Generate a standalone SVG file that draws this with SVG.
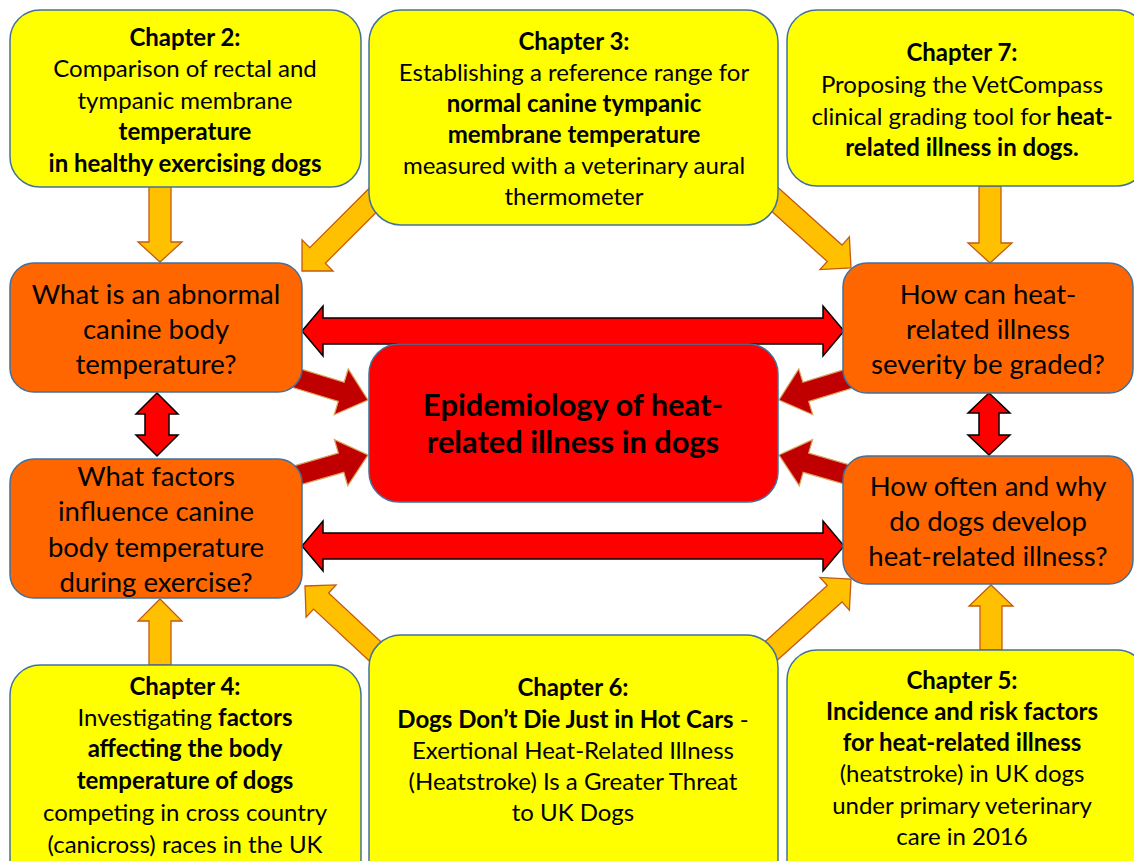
<svg xmlns="http://www.w3.org/2000/svg" width="1134" height="861" viewBox="0 0 1134 861">
  <defs>
    <style>
      .ch { fill: #FFFF00; stroke: #41719C; stroke-width: 1.5; }
      .q { fill: #FF6600; stroke: #41719C; stroke-width: 1.5; }
      .core { fill: #FF0000; stroke: #41719C; stroke-width: 1.5; }
      .ya { fill: #FFC000; stroke: #C55A11; stroke-width: 1.3; stroke-linejoin: miter; }
      .ra { fill: #C00000; stroke: #D9A45A; stroke-width: 1.2; }
      .da { fill: #FF0000; stroke: #000000; stroke-width: 1.5; stroke-linejoin: miter; }
      text { font-family: Lato, "Open Sans", "Liberation Sans", sans-serif; fill: #000; text-anchor: middle; }
      .t { font-size: 24px; }
      .qt { font-size: 27.5px; }
      .ct { font-size: 30.8px; font-weight: bold; }
      .b { font-weight: bold; }
    </style>
  </defs>

  <!-- connectors -->
  <g id="connectors">
    <!-- yellow block arrows from chapters to questions -->
    <polygon class="ya" points="149,186 171,186 171,242 182,242 160,262 138,242 149,242"/>
    <polygon class="ya" points="979,186 1001,186 1001,243 1012,243 990,263 968,243 979,243"/>
    <polygon class="ya" points="149,665 171,665 171,621 182,621 160,599 138,621 149,621"/>
    <polygon class="ya" points="980,650 1002,650 1002,606 1013,606 991,585 969,606 980,606"/>
    <!-- diagonal yellow arrows: base shape points along +x, tip at origin -->
    <polygon class="ya" transform="translate(302,271) rotate(135)" points="-110,-11 -22,-11 -22,-22 0,0 -22,22 -22,11 -110,11"/>
    <polygon class="ya" transform="translate(851,268) rotate(42)" points="-110,-11 -22,-11 -22,-22 0,0 -22,22 -22,11 -110,11"/>
    <polygon class="ya" transform="translate(305,586) rotate(223)" points="-110,-11 -22,-11 -22,-22 0,0 -22,22 -22,11 -110,11"/>
    <polygon class="ya" transform="translate(851,579) rotate(-42)" points="-110,-11 -22,-11 -22,-22 0,0 -22,22 -22,11 -110,11"/>

    <!-- dark red arrows into the central topic -->
    <polygon class="ra" transform="translate(368,400) rotate(17)" points="-85,-10 -28,-10 -28,-24 0,0 -28,24 -28,10 -85,10"/>
    <polygon class="ra" transform="translate(368,455) rotate(-16)" points="-85,-10 -28,-10 -28,-24 0,0 -28,24 -28,10 -85,10"/>
    <polygon class="ra" transform="translate(779,400) rotate(163)" points="-85,-10 -28,-10 -28,-24 0,0 -28,24 -28,10 -85,10"/>
    <polygon class="ra" transform="translate(779,455) rotate(196)" points="-85,-10 -28,-10 -28,-24 0,0 -28,24 -28,10 -85,10"/>

    <!-- red double-headed arrows between questions -->
    <polygon class="da" points="302,331 323,306 323,318 823,318 823,306 844,331 823,356 823,344 323,344 323,356"/>
    <polygon class="da" points="302,546 323,521 323,533 823,533 823,521 844,546 823,571 823,559 323,559 323,571"/>
    <polygon class="da" points="157,393 178,414 169,414 169,435 178,435 157,456 136,435 145,435 145,414 136,414"/>
    <polygon class="da" points="989,393 1010,413 999,413 999,435 1010,435 989,455 968,435 979,435 979,413 968,413"/>
  </g>

  <!-- chapter boxes -->
  <g id="chapter2">
    <rect class="ch" x="10" y="10" width="351" height="177" rx="30"/>
    <text class="t" x="185" y="46"><tspan class="b">Chapter 2:</tspan></text>
    <text class="t" x="185" y="77">Comparison of rectal and</text>
    <text class="t" x="185" y="109">tympanic membrane</text>
    <text class="t" x="185" y="140"><tspan class="b">temperature</tspan></text>
    <text class="t" x="185" y="172"><tspan class="b">in healthy exercising dogs</tspan></text>
  </g>

  <g id="chapter3">
    <rect class="ch" x="369" y="10" width="409" height="215" rx="32"/>
    <text class="t" x="574" y="50"><tspan class="b">Chapter 3:</tspan></text>
    <text class="t" x="574" y="81">Establishing a reference range for</text>
    <text class="t" x="574" y="112"><tspan class="b">normal canine tympanic</tspan></text>
    <text class="t" x="574" y="143"><tspan class="b">membrane temperature</tspan></text>
    <text class="t" x="574" y="174">measured with a veterinary aural</text>
    <text class="t" x="574" y="205">thermometer</text>
  </g>

  <g id="chapter7">
    <rect class="ch" x="787" y="10" width="360" height="176" rx="30"/>
    <text class="t" x="962" y="61"><tspan class="b">Chapter 7:</tspan></text>
    <text class="t" x="962" y="93">Proposing the VetCompass</text>
    <text class="t" x="962" y="125">clinical grading tool for <tspan class="b">heat-</tspan></text>
    <text class="t" x="962" y="156"><tspan class="b">related illness in dogs.</tspan></text>
  </g>

  <g id="chapter4">
    <rect class="ch" x="10" y="665" width="351" height="230" rx="30"/>
    <text class="t" x="185" y="695"><tspan class="b">Chapter 4:</tspan></text>
    <text class="t" x="185" y="726">Investigating <tspan class="b">factors</tspan></text>
    <text class="t" x="185" y="757"><tspan class="b">affecting the body</tspan></text>
    <text class="t" x="185" y="789"><tspan class="b">temperature of dogs</tspan></text>
    <text class="t" x="185" y="821">competing in cross country</text>
    <text class="t" x="185" y="853">(canicross) races in the UK</text>
  </g>

  <g id="chapter6">
    <rect class="ch" x="369" y="635" width="409" height="260" rx="32"/>
    <text class="t" x="573" y="696"><tspan class="b">Chapter 6:</tspan></text>
    <text class="t" x="573" y="728"><tspan class="b">Dogs Don’t Die Just in Hot Cars</tspan> -</text>
    <text class="t" x="573" y="759">Exertional Heat-Related Illness</text>
    <text class="t" x="573" y="790">(Heatstroke) Is a Greater Threat</text>
    <text class="t" x="573" y="821">to UK Dogs</text>
  </g>

  <g id="chapter5">
    <rect class="ch" x="787" y="650" width="360" height="245" rx="30"/>
    <text class="t" x="962" y="689"><tspan class="b">Chapter 5:</tspan></text>
    <text class="t" x="962" y="720"><tspan class="b">Incidence and risk factors</tspan></text>
    <text class="t" x="962" y="751"><tspan class="b">for heat-related illness</tspan></text>
    <text class="t" x="962" y="782">(heatstroke) in UK dogs</text>
    <text class="t" x="962" y="814">under primary veterinary</text>
    <text class="t" x="962" y="845">care in 2016</text>
  </g>

  <!-- question boxes -->
  <g id="q-abnormal">
    <rect class="q" x="10" y="263" width="292" height="129" rx="24"/>
    <text class="qt" x="156" y="304">What is an abnormal</text>
    <text class="qt" x="156" y="339">canine body</text>
    <text class="qt" x="156" y="374">temperature?</text>
  </g>

  <g id="q-factors">
    <rect class="q" x="10" y="459" width="292" height="139" rx="24"/>
    <text class="qt" x="156" y="486">What factors</text>
    <text class="qt" x="156" y="521">influence canine</text>
    <text class="qt" x="156" y="557">body temperature</text>
    <text class="qt" x="156" y="592">during exercise?</text>
  </g>

  <g id="q-grading">
    <rect class="q" x="843" y="263" width="290" height="130" rx="24"/>
    <text class="qt" x="988" y="304">How can heat-</text>
    <text class="qt" x="988" y="339">related illness</text>
    <text class="qt" x="988" y="374">severity be graded?</text>
  </g>

  <g id="q-incidence">
    <rect class="q" x="843" y="456" width="290" height="128" rx="24"/>
    <text class="qt" x="988" y="496">How often and why</text>
    <text class="qt" x="988" y="531">do dogs develop</text>
    <text class="qt" x="988" y="566">heat-related illness?</text>
  </g>

  <!-- central topic -->
  <g id="topic">
    <rect class="core" x="369" y="344" width="409" height="158" rx="30"/>
    <text class="ct" x="573" y="416">Epidemiology of heat-</text>
    <text class="ct" x="573" y="453">related illness in dogs</text>
  </g>
</svg>
